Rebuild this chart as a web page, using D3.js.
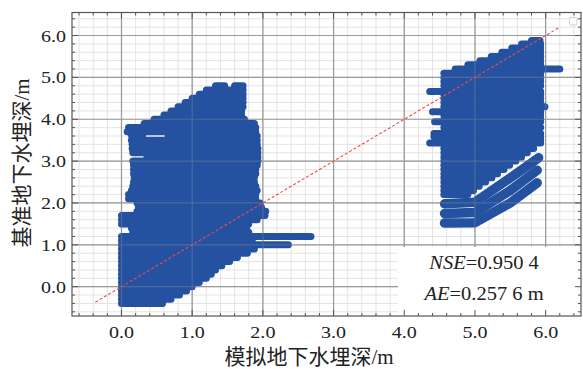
<!DOCTYPE html>
<html>
<head>
<meta charset="utf-8">
<script src="https://cdn.jsdelivr.net/npm/d3@7"></script>
<style>
  body { margin: 0; background: #fff; }
  svg { display: block; }
</style>
</head>
<body>
<svg id="chart" width="583" height="369"></svg>
<script>
// tick values on both axes
var xTicks = [0, 1, 2, 3, 4, 5, 6];
var yTicks = [0, 1, 2, 3, 4, 5, 6];

// left cluster, horizontal runs of points: [y, xStart, xEnd]
var leftRows = [
  [-0.4, 0.0, 0.58], [-0.3, 0.0, 0.70], [-0.2, 0.0, 0.82], [-0.1, 0.0, 0.92],
  [0.0, 0.0, 1.00], [0.1, 0.0, 1.10], [0.2, 0.0, 1.20], [0.3, 0.0, 1.27],
  [0.4, 0.0, 1.33], [0.5, 0.0, 1.42], [0.6, 0.0, 1.53], [0.7, 0.0, 1.64],
  [0.8, 0.0, 1.78], [0.9, 0.0, 1.88], [1.0, 0.0, 2.36], [1.1, 0.0, 1.85],
  [1.2, 0.0, 2.68], [1.3, 0.16, 1.80], [1.4, 0.14, 1.77], [1.5, 0.0, 1.80],
  [1.6, 0.0, 1.92], [1.7, 0.0, 2.03], [1.8, 0.22, 2.04], [1.9, 0.24, 1.98],
  [2.0, 0.22, 1.96], [2.1, 0.10, 1.90], [2.2, 0.10, 1.90], [2.3, 0.14, 1.92],
  [2.4, 0.16, 1.90], [2.5, 0.17, 1.88], [2.6, 0.18, 1.88], [2.7, 0.17, 1.90],
  [2.8, 0.17, 1.90], [2.9, 0.17, 1.92], [3.0, 0.16, 1.93], [3.1, 0.36, 1.93],
  [3.2, 0.16, 1.93], [3.3, 0.15, 1.93], [3.4, 0.15, 1.92], [3.5, 0.14, 1.92],
  [3.6, 0.66, 1.92], [3.62, 0.14, 0.30], [3.7, 0.08, 1.90], [3.8, 0.10, 1.90],
  [3.9, 0.32, 1.88], [4.0, 0.46, 1.74], [4.1, 0.60, 1.70], [4.2, 0.70, 1.70],
  [4.3, 0.80, 1.72], [4.4, 0.90, 1.72], [4.5, 1.00, 1.72], [4.6, 1.10, 1.72],
  [4.7, 1.20, 1.72], [4.8, 1.33, 1.46], [4.8, 1.60, 1.72]
];

// right cluster, horizontal runs of points: [y, xStart, xEnd]
var rightRows = [
  [5.88, 5.80, 5.92], [5.8, 5.66, 5.93], [5.7, 5.52, 5.93], [5.6, 5.38, 5.93],
  [5.5, 5.23, 5.93], [5.4, 5.07, 5.93], [5.3, 4.90, 5.93], [5.2, 4.72, 6.20],
  [5.1, 4.56, 5.93], [5.0, 4.56, 5.93], [4.9, 4.56, 5.93], [4.8, 4.56, 5.93],
  [4.66, 4.36, 5.93], [4.6, 4.56, 5.93], [4.5, 4.56, 5.93], [4.4, 4.56, 5.93],
  [4.3, 4.56, 5.99], [4.18, 4.40, 5.93], [4.1, 4.56, 5.93], [4.0, 4.56, 5.93],
  [3.94, 4.43, 5.93], [3.8, 4.56, 5.93], [3.66, 4.42, 5.93], [3.58, 4.42, 5.93],
  [3.5, 4.56, 5.93], [3.43, 4.36, 5.93], [3.3, 4.56, 5.83], [3.2, 4.56, 5.74],
  [3.1, 4.56, 5.66], [3.0, 4.56, 5.58], [2.9, 4.56, 5.49], [2.8, 4.56, 5.41],
  [2.7, 4.56, 5.32], [2.6, 4.56, 5.24], [2.5, 4.56, 5.15], [2.4, 4.56, 5.06],
  [2.3, 4.56, 4.98], [2.2, 4.56, 4.90]
];

// right cluster, lower diagonal bands of points: [x, y] vertices
var rightBands = [
  [[4.57, 1.52], [5.0, 1.53], [5.5, 2.00], [5.88, 2.48]],
  [[4.57, 1.75], [5.0, 1.77], [5.5, 2.30], [5.88, 2.78]],
  [[4.57, 1.98], [5.0, 2.02], [5.5, 2.60], [5.90, 3.08]]
];

// 1:1 reference line ends
var oneToOne = [-0.37, 6.2];

var nseValue = '0.950 4';
var aeValue = '0.257 6';

var margin = {top: 12.5, right: 2, bottom: 53, left: 72},
    width = 583 - margin.left - margin.right,
    height = 369 - margin.top - margin.bottom;

var svg = d3.select('#chart');
var x = d3.scaleLinear().domain([-0.7, 6.5]).range([margin.left, margin.left + width]);
var y = d3.scaleLinear().domain([-0.7, 6.55]).range([margin.top + height, margin.top]);

var minorX = d3.range(-0.6, 6.5, 0.2).filter(d => Math.abs(d - Math.round(d)) > 0.01);
var minorY = d3.range(-0.6, 6.55, 0.2).filter(d => Math.abs(d - Math.round(d)) > 0.01);

var x0 = margin.left, x1 = margin.left + width, y0 = margin.top, y1 = margin.top + height;
var blue = '#2451a0';

// minor grid
svg.append('g').selectAll('line').data(minorX).join('line')
  .attr('x1', d => x(d)).attr('x2', d => x(d)).attr('y1', y0).attr('y2', y1)
  .attr('stroke', '#e4e4e4').attr('stroke-width', 1);
svg.append('g').selectAll('line').data(minorY).join('line')
  .attr('x1', x0).attr('x2', x1).attr('y1', d => y(d)).attr('y2', d => y(d))
  .attr('stroke', '#e4e4e4').attr('stroke-width', 1);

// major grid
function majorGrid(opacity){
  var g = svg.append('g').attr('opacity', opacity);
  g.selectAll('.gx').data(xTicks).join('line')
    .attr('x1', d => x(d)).attr('x2', d => x(d)).attr('y1', y0).attr('y2', y1)
    .attr('stroke', '#9a9a9a').attr('stroke-width', 1.2);
  g.selectAll('.gy').data(yTicks).join('line')
    .attr('x1', x0).attr('x2', x1).attr('y1', d => y(d)).attr('y2', d => y(d))
    .attr('stroke', '#9a9a9a').attr('stroke-width', 1.2);
}
majorGrid(1);

// points
var pts = svg.append('g')
  .attr('stroke', blue).attr('stroke-width', 7)
  .attr('stroke-linecap', 'round').attr('stroke-linejoin', 'round').attr('fill', 'none');
pts.selectAll('.lr').data(leftRows.concat(rightRows)).join('line')
  .attr('x1', d => x(d[1])).attr('x2', d => x(d[2]))
  .attr('y1', d => y(d[0])).attr('y2', d => y(d[0]));
var line = d3.line().x(d => x(d[0])).y(d => y(d[1]));
pts.selectAll('.band').data(rightBands).join('path')
  .attr('d', line).attr('stroke-width', 9.5);

// grid seen through the points
majorGrid(0.35);

// 1:1 line
svg.append('line')
  .attr('x1', x(oneToOne[0])).attr('y1', y(oneToOne[0]))
  .attr('x2', x(oneToOne[1])).attr('y2', y(oneToOne[1]))
  .attr('stroke', '#f24a4a').attr('stroke-width', 1.1).attr('stroke-dasharray', '3,2');

// stats box
svg.append('rect').attr('x', 398).attr('y', 247).attr('width', x1 - 398).attr('height', y1 - 247)
  .attr('fill', '#fff');
var serif = '"Liberation Serif", "Times New Roman", serif';
var t1 = svg.append('text').attr('transform', 'translate(484,269) scale(1.08,1)')
  .attr('text-anchor', 'middle').attr('font-family', serif).attr('font-size', 19).attr('fill', '#222');
t1.append('tspan').attr('font-style', 'italic').text('NSE');
t1.append('tspan').text('=' + nseValue);
var t2 = svg.append('text').attr('transform', 'translate(484,300) scale(1.08,1)')
  .attr('text-anchor', 'middle').attr('font-family', serif).attr('font-size', 19).attr('fill', '#222');
t2.append('tspan').attr('font-style', 'italic').text('AE');
t2.append('tspan').text('=' + aeValue + ' m');

// little legend handle, top right
svg.append('rect').attr('x', 569.5).attr('y', 17.5).attr('width', 7.5).attr('height', 7.5).attr('rx', 1.5)
  .attr('fill', '#fff').attr('stroke', '#cfcfcf');

// inner ticks on all sides
var tk = svg.append('g').attr('stroke', '#555').attr('stroke-width', 1);
function ticksX(vals, len){
  tk.append('g').selectAll('line').data(vals).join('line')
    .attr('x1', d => x(d)).attr('x2', d => x(d)).attr('y1', y1).attr('y2', y1 - len);
  tk.append('g').selectAll('line').data(vals).join('line')
    .attr('x1', d => x(d)).attr('x2', d => x(d)).attr('y1', y0).attr('y2', y0 + len);
}
function ticksY(vals, len){
  tk.append('g').selectAll('line').data(vals).join('line')
    .attr('y1', d => y(d)).attr('y2', d => y(d)).attr('x1', x0).attr('x2', x0 + len);
  tk.append('g').selectAll('line').data(vals).join('line')
    .attr('y1', d => y(d)).attr('y2', d => y(d)).attr('x1', x1).attr('x2', x1 - len);
}
ticksX(minorX, 3); ticksX(xTicks, 6);
ticksY(minorY, 3); ticksY(yTicks, 6);

// frame
svg.append('rect').attr('x', x0).attr('y', y0).attr('width', width).attr('height', height)
  .attr('fill', 'none').attr('stroke', '#555').attr('stroke-width', 1.2);

// tick labels
svg.append('g').selectAll('text').data(xTicks).join('text')
  .attr('transform', d => 'translate(' + x(d) + ',338) scale(1.18,1)')
  .attr('text-anchor', 'middle').attr('font-family', serif).attr('font-size', 17).attr('fill', '#222')
  .text(d => d3.format('.1f')(d));
svg.append('g').selectAll('text').data(yTicks).join('text')
  .attr('transform', d => 'translate(66,' + (y(d) + 6) + ') scale(1.18,1)')
  .attr('text-anchor', 'end').attr('font-family', serif).attr('font-size', 17).attr('fill', '#222')
  .text(d => d3.format('.1f')(d));

// axis titles
var cjk = '"Noto Sans CJK SC", sans-serif';
var xt = svg.append('text').attr('x', 309).attr('y', 364).attr('text-anchor', 'middle')
  .attr('font-family', cjk).attr('font-size', 21).attr('fill', '#222');
xt.append('tspan').text('模拟地下水埋深');
xt.append('tspan').attr('font-family', serif).text('/m');
var yt = svg.append('text').attr('transform', 'translate(29,163) rotate(-90)').attr('text-anchor', 'middle')
  .attr('font-family', cjk).attr('font-size', 21).attr('fill', '#222');
yt.append('tspan').text('基准地下水埋深');
yt.append('tspan').attr('font-family', serif).text('/m');
</script>
</body>
</html>
